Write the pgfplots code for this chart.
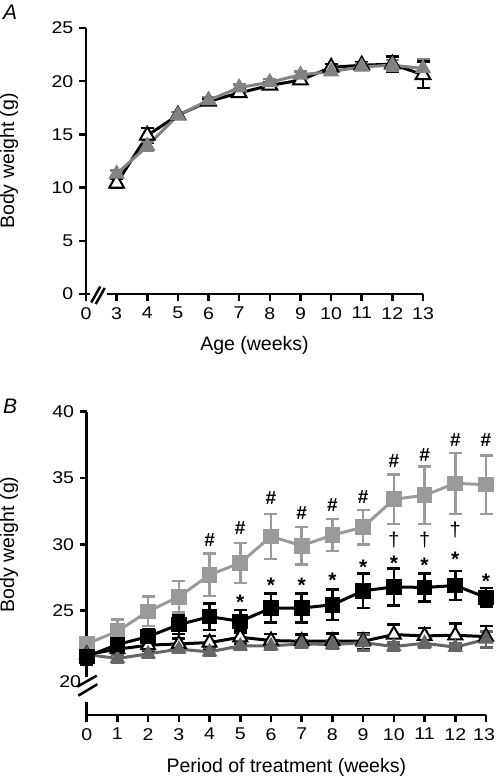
\documentclass[border=0pt]{standalone}
\usepackage{fontspec}
\setmainfont{Liberation Sans}
\newfontfamily\tickfont[FakeStretch=1.15]{Liberation Sans}
\usepackage{pgfplots}
\pgfplotsset{compat=1.18}
\usepackage{pgfplotstable}
\definecolor{grA}{HTML}{828282}
\definecolor{grS}{HTML}{9A9A9A}
\definecolor{grT}{HTML}{666666}

\pgfplotstableread{
x y e
3 10.4 0.45
4 14.9 0.7
5 16.8 0.3
6 18.1 0.3
7 18.9 0.3
8 19.6 0.3
9 20.1 0.3
10 21.3 0.3
11 21.5 0.3
12 21.6 0.7
13 20.6 1.25
}\Ablack
\pgfplotstableread{
x y e
3 11.3 0.3
4 13.9 0.4
5 16.8 0.3
6 18.2 0.3
7 19.4 0.3
8 19.9 0.3
9 20.6 0.3
10 20.9 0.3
11 21.35 0.3
12 21.5 0.5
13 21.2 0.9
}\Agray
\pgfplotstableread{
x y e
0 22.5 0.5
1 23.45 0.9
2 24.95 1.1
3 26.05 1.2
4 27.7 1.6
5 28.6 1.5
6 30.6 1.7
7 29.9 1.4
8 30.7 1.2
9 31.3 1.3
10 33.4 1.85
11 33.7 2.15
12 34.6 2.3
13 34.5 2.2
}\BgraySq
\pgfplotstableread{
x y e
0 21.55 0.6
1 22.45 0.5
2 23.05 0.55
3 23.95 0.7
4 24.55 1.0
5 24.2 0.85
6 25.2 1.1
7 25.2 1.1
8 25.45 1.15
9 26.5 1.3
10 26.8 1.4
11 26.75 1.05
12 26.9 1.1
13 26.0 0.7
}\BblackSq
\pgfplotstableread{
x y e
0 21.7 0.4
1 22.1 0.4
2 22.4 0.4
3 22.5 0.4
4 22.6 0.5
5 23.0 0.5
6 22.75 0.5
7 22.7 0.5
8 22.7 0.6
9 22.7 0.6
10 23.2 0.75
11 23.1 0.6
12 23.15 0.9
13 23.05 0.8
}\BblackTri
\pgfplotstableread{
x y e
0 21.7 0.4
1 21.4 0.3
2 21.75 0.3
3 22.1 0.3
4 21.9 0.3
5 22.35 0.3
6 22.35 0.3
7 22.5 0.3
8 22.45 0.3
9 22.6 0.6
10 22.3 0.3
11 22.55 0.3
12 22.25 0.3
13 22.85 0.6
}\BgrayTri

\pgfplotsset{
  panel/.style={
    scale only axis, enlargelimits=false, clip=false,
    axis lines=left,
    axis line style={-, line width=2.5pt, black},
    tick align=outside, major tick length=7pt,
    tick style={line width=2.5pt, black},
    /pgf/number format/assume math mode=true,
    ticklabel style={font=\tickfont\fontsize{17}{17}\selectfont, inner sep=0pt},
    xticklabel style={yshift=-6pt},
    yticklabel style={xshift=-5.5pt},
    label style={font=\fontsize{19.5}{20}\selectfont},
  },
  ser/.style={line width=3pt, #1,
    error bars/y dir=both, error bars/y explicit,
    error bars/error bar style={line width=2.6pt, #1},
    error bars/error mark options={rotate=90, line width=2.6pt, mark size=6.5pt, #1}},
}

\begin{document}
\begin{tikzpicture}[x=1pt,y=1pt]
\useasboundingbox (0,0) rectangle (495,778);

\node[anchor=north west, inner sep=0pt, font=\itshape\fontsize{21}{21}\selectfont] at (3,773) {A};
\node[anchor=north west, inner sep=0pt, font=\itshape\fontsize{21}{21}\selectfont] at (3,379) {B};

% Panel A
\begin{axis}[panel,
  at={(86pt,484pt)}, anchor=south west,
  width=337pt, height=266pt,
  xmin=2, xmax=13, ymin=0, ymax=25,
  xtick={2,3,4,5,6,7,8,9,10,11,12,13},
  xticklabels={0,3,4,5,6,7,8,9,10,11,12,13},
  ytick={0,5,10,15,20,25},
  xlabel={Age (weeks)},
  xlabel style={at={(axis description cs:0.5,-0.2132)}, anchor=base},
  ylabel={Body weight (g)},
  ylabel style={at={(axis description cs:-0.2009,0.5)}, anchor=south, inner sep=0pt},
]
\addplot[ser=black, mark=triangle*, mark size=8.5pt, mark options={solid, fill=white, draw=black, line width=2pt}]
  table[x=x, y=y, y error=e] {\Ablack};
\addplot[ser=grA, mark=triangle*, mark size=8.5pt, mark options={solid, fill=grA, draw=grA, line width=1pt}]
  table[x=x, y=y, y error=e] {\Agray};
\coordinate (brkA) at (axis cs:2.4,0);
\end{axis}

% Panel B
\begin{axis}[panel,
  at={(86.7pt,63pt)}, anchor=south west,
  width=399.3pt, height=303.3pt,
  xmin=0, xmax=13, ymin=17.14, ymax=40,
  xtick={0,1,...,13},
  xticklabels={0,1,2,3,4,5,6,7,8,9,10,11,12,\hspace*{-4pt}13},
  ytick={25,30,35,40},
  extra y ticks={19.65}, extra y tick labels={20},
  extra y tick style={major tick length=0pt},
  xlabel={Period of treatment (weeks)},
  xlabel style={at={(axis description cs:0.5,-0.1912)}, anchor=base},
  ylabel={Body weight (g)},
  ylabel style={at={(axis description cs:-0.1713,0.5626)}, anchor=south, inner sep=0pt},
]
\addplot[ser=grS, mark=square*, mark size=6.3pt, mark options={solid, fill=grS, draw=grS}]
  table[x=x, y=y, y error=e] {\BgraySq};
\addplot[ser=black, mark=triangle*, mark size=8pt, mark options={solid, fill=white, draw=black, line width=2pt}]
  table[x=x, y=y, y error=e] {\BblackTri};
\addplot[ser=grT, mark=triangle*, mark size=8pt, mark options={solid, fill=grT, draw=grT, line width=1pt}]
  table[x=x, y=y, y error=e] {\BgrayTri};
\addplot[ser=black, mark=square*, mark size=6.3pt, mark options={solid, fill=black, draw=black}]
  table[x=x, y=y, y error=e] {\BblackSq};

\foreach \xx/\yy in {4/30.3,5/31.2,6/33.5,7/32.4,8/33.0,9/33.6,10/36.3,11/36.7,12/37.9,13/37.9}{
  \edef\tmp{\noexpand\node[inner sep=0pt, font=\noexpand\bfseries\noexpand\fontsize{19}{19}\noexpand\selectfont] at (axis cs:\xx,\yy) {\noexpand\#};}\tmp
}
\foreach \xx/\yy in {10/30.3,11/30.3,12/31.1}{
  \edef\tmp{\noexpand\node[inner sep=0pt, font=\noexpand\fontsize{20}{20}\noexpand\selectfont] at (axis cs:\xx,\yy) {†};}\tmp
}
\foreach \xx/\yy in {5/25.9,6/27.2,7/27.2,8/27.6,9/28.6,10/28.9,11/28.7,12/29.2,13/27.5}{
  \edef\tmp{\noexpand\node[inner sep=0pt, yshift=-4pt, font=\noexpand\bfseries\noexpand\fontsize{21}{21}\noexpand\selectfont] at (axis cs:\xx,\yy) {*};}\tmp
}
\coordinate (brkB) at (axis cs:0,19.33);
\end{axis}

% axis breaks
\begin{scope}[shift={(brkA)}]
  \fill[white] (-8.5,-3) rectangle (8.5,3);
  \draw[line width=2.5pt] (-7,-8.5) -- (2,7.5);
  \draw[line width=2.5pt] (-2.5,-10) -- (6.5,6);
\end{scope}
\begin{scope}[shift={(brkB)}]
  \fill[white] (-3,-15.7) rectangle (3,9.3);
  \draw[line width=2.5pt] (-9.4,-0.7) -- (10,10.3);
  \draw[line width=2.5pt] (-8.4,-9.7) -- (10.6,1.7);
\end{scope}
\end{tikzpicture}
\end{document}
